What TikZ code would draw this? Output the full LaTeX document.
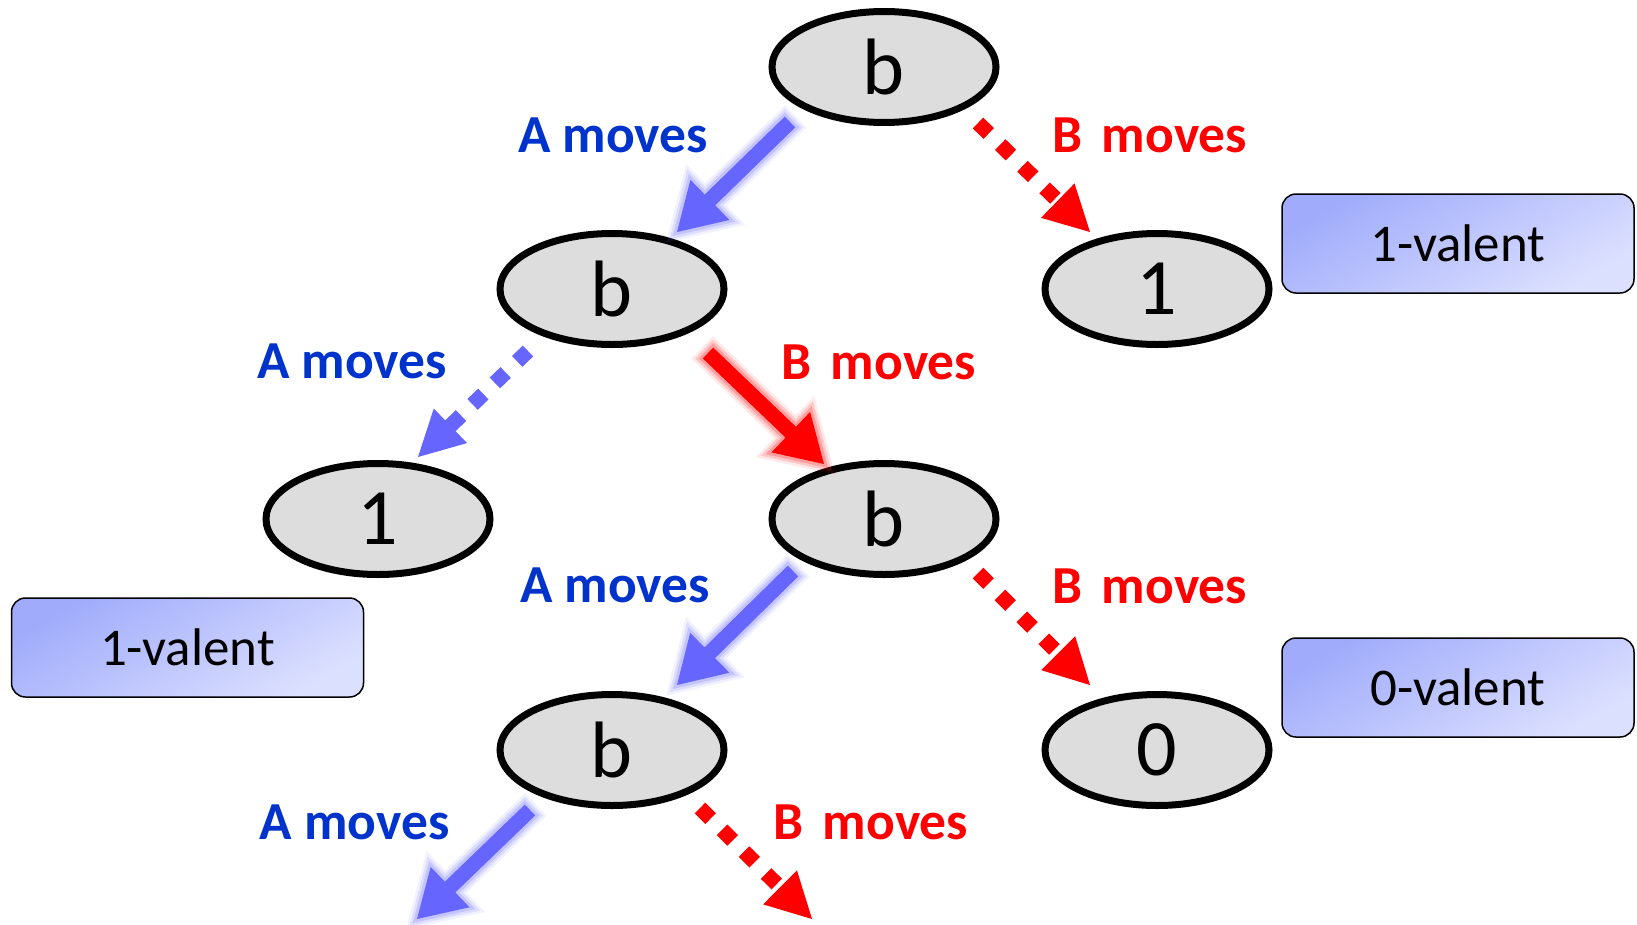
\documentclass[tikz,border=0pt]{standalone}
\usepackage{fontspec}
\setmainfont{Carlito}
\usetikzlibrary{calc,shapes.geometric}
\definecolor{nodefill}{HTML}{DDDDDD}
\definecolor{ablue}{HTML}{6666FF}
\definecolor{aglow}{HTML}{8080FF}
\definecolor{tblue}{HTML}{0033CC}
\definecolor{bred}{HTML}{FF0000}
\definecolor{rglow}{HTML}{FF3333}
\definecolor{boxtl}{HTML}{A0ACFB}
\definecolor{boxbr}{HTML}{DCE0FF}
\tikzset{
  state/.style={ellipse, draw=black, line width=7pt, fill=nodefill,
    minimum width=224pt, minimum height=111pt, inner sep=0pt,
    font=\fontsize{80}{80}\selectfont},
  lblA/.style={text=tblue, inner sep=0pt, font=\fontsize{53.5}{54}\selectfont\bfseries},
  lblB/.style={text=bred, inner sep=0pt, font=\fontsize{53.5}{54}\selectfont\bfseries},
  valbox/.style={draw=black, line width=1.5pt, rounded corners=14pt,
    top color=boxtl, bottom color=boxbr, shading angle=30,
    minimum width=352pt, minimum height=99pt, inner sep=0pt,
    font=\fontsize{53}{53}\selectfont},
}
\newcommand\solidarrow[4]{%
  \coordinate (hb) at ($(#2)!46pt!(#1)$);
  \path[line join=round,
    preaction={draw=#4, draw opacity=.10, line width=16pt},
    preaction={draw=#4, draw opacity=.18, line width=11pt},
    preaction={draw=#4, draw opacity=.28, line width=6pt},
    fill=#3]
    ($(#1)!7.5pt!90:(#2)$) -- ($(hb)!7.5pt!-90:(#1)$) -- ($(hb)!28pt!-90:(#1)$)
    -- (#2) -- ($(hb)!28pt!90:(#1)$) -- ($(hb)!7.5pt!90:(#1)$)
    -- ($(#1)!7.5pt!-90:(#2)$) -- cycle;
}
\newcommand\dotarrow[3]{%
  \coordinate (hb) at ($(#2)!45pt!(#1)$);
  \draw[#3, line width=15pt, line cap=butt, dash pattern=on 15pt off 16pt]
    (#1) -- ($(hb)!-3pt!(#1)$);
  \fill[#3] ($(hb)!24pt!90:(#1)$) -- (#2) -- ($(hb)!24pt!-90:(#1)$) -- cycle;
}
\begin{document}
\begin{tikzpicture}[x=1pt,y=-1pt]
\useasboundingbox (0,0) rectangle (1637,924);
\fill[white] (0,0) rectangle (1637,924);

% states
\node[state] (top) at (884,67) {b};
\node[state] (l2b) at (612,289) {b};
\node[state] (r1) at (1157,289) {1};
\node[state] (l3one) at (378,519) {1};
\node[state] (l3b) at (884,519) {b};
\node[state] (l4b) at (612,750) {b};
\node[state] (l4zero) at (1157,750) {0};

% valency boxes
\node[valbox] (v1) at (1458,243.5) {1-valent};
\node[valbox] (v2) at (187.5,647.5) {1-valent};
\node[valbox] (v3) at (1458,687.5) {0-valent};

% labels
\node[lblA] (la1) at (613,135) {A moves};
\node[lblB] (lb1) at (1150,135) {B\hspace{7pt} moves};
\node[lblA] (la2) at (352,361) {A moves};
\node[lblB] (lb2) at (879,362) {B\hspace{7pt} moves};
\node[lblA] (la3) at (615,585) {A moves};
\node[lblB] (lb3) at (1150,586) {B\hspace{7pt} moves};
\node[lblA] (la4) at (354.5,822) {A moves};
\node[lblB] (lb4) at (871,822) {B\hspace{7pt} moves};

% arrow end points
\coordinate (a1s) at ($(top)+(-94,55)$);
\coordinate (a1e) at ($(l2b)+(65,-57)$);
\coordinate (b1s) at ($(top)+(94,56)$);
\coordinate (b1e) at ($(r1)+(-67,-57)$);
\coordinate (a2s) at ($(l2b)+(-84,62)$);
\coordinate (a2e) at ($(l3one)+(40,-62)$);
\coordinate (b2s) at ($(l2b)+(96,64)$);
\coordinate (b2e) at ($(l3b)+(-60,-55)$);
\coordinate (a3s) at ($(l3b)+(-91,52)$);
\coordinate (a3e) at ($(l4b)+(65,-65)$);
\coordinate (b3s) at ($(l3b)+(94,54)$);
\coordinate (b3e) at ($(l4zero)+(-67,-65)$);
\coordinate (a4s) at ($(l4b)+(-82,60)$);
\coordinate (a4e) at (417,919);
\coordinate (b4s) at ($(l4b)+(88,58)$);
\coordinate (b4e) at (812,919);

% arrows
\solidarrow{a1s}{a1e}{ablue}{aglow}
\dotarrow{b1s}{b1e}{bred}
\dotarrow{a2s}{a2e}{ablue}
\solidarrow{b2s}{b2e}{bred}{rglow}
\solidarrow{a3s}{a3e}{ablue}{aglow}
\dotarrow{b3s}{b3e}{bred}
\solidarrow{a4s}{a4e}{ablue}{aglow}
\dotarrow{b4s}{b4e}{bred}
\end{tikzpicture}
\end{document}
